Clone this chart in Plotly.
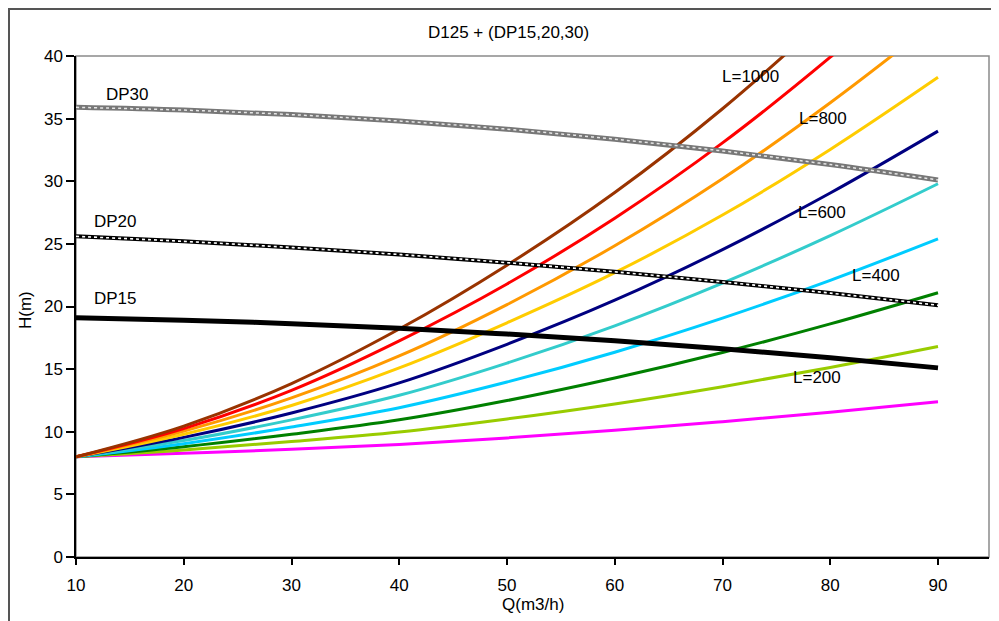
import plotly.graph_objects as go

# ---- data ----
Q = [10, 20, 30, 40, 50, 60, 70, 80, 90]

L100 = [8, 8.28, 8.60, 8.99, 9.51, 10.11, 10.80, 11.56, 12.4]
L200 = [8, 8.55, 9.22, 9.98, 11.02, 12.22, 13.60, 15.13, 16.8]
L300 = [8, 8.80, 9.80, 10.95, 12.49, 14.29, 16.33, 18.61, 21.1]
L400 = [8, 9.05, 10.38, 11.92, 13.97, 16.35, 19.07, 22.09, 25.4]
L500 = [8, 9.30, 10.95, 12.91, 15.48, 18.46, 21.87, 25.66, 29.8]
L600 = [8, 9.55, 11.50, 13.90, 16.98, 20.50, 24.54, 29.06, 34.0]
L700 = [8, 9.80, 12.10, 15.10, 18.70, 22.70, 27.30, 32.54, 38.3]
L800 = [8, 10.05, 12.70, 16.05, 20.15, 24.85, 30.20, 36.27, 42.9]
L900 = [8, 10.25, 13.30, 17.25, 21.80, 27.05, 33.06, 39.91, 47.4]
L1000 = [8, 10.45, 13.85, 18.20, 23.30, 29.10, 35.79, 43.40, 51.7]

DP15 = [19.1, 18.91, 18.63, 18.26, 17.80, 17.26, 16.63, 15.91, 15.1]
DP20 = [25.6, 25.20, 24.71, 24.15, 23.50, 22.77, 21.96, 21.07, 20.1]
DP30 = [35.9, 35.68, 35.32, 34.81, 34.16, 33.36, 32.42, 31.33, 30.1]

system_series = [L100, L200, L300, L400, L500, L600, L700, L800, L900, L1000]
system_colors = ["#FF00FF", "#99CC00", "#008000", "#00CCFF", "#33CCCC",
                 "#000080", "#FFCC00", "#FF9900", "#FF0000", "#993300"]
system_names = ["L=100", "L=200", "L=300", "L=400", "L=500",
                "L=600", "L=700", "L=800", "L=900", "L=1000"]

line_labels = ["L=1000", "L=800", "L=600", "L=400", "L=200"]
line_label_q = [72.6, 79.3, 79.2, 84.2, 78.8]
line_label_h = [38.4, 35.0, 27.5, 22.5, 14.3]

pump_labels = ["DP30", "DP20", "DP15"]
pump_label_q = [14.8, 13.7, 13.7]
pump_label_h = [36.9, 26.8, 20.6]

title_text = "D125 + (DP15,20,30)"
x_title = "Q(m3/h)"
y_title = "H(m)"

FONT = "Liberation Sans, Arial, sans-serif"
FS = 17

fig = go.Figure()

for ys, c, n in zip(system_series, system_colors, system_names):
    fig.add_trace(go.Scatter(x=Q, y=ys, mode="lines", name=n,
                             line=dict(color=c, width=3, shape="spline")))

# pump curves
fig.add_trace(go.Scatter(x=Q, y=DP30, mode="lines", name="DP30",
                         line=dict(color="#777777", width=5, shape="spline")))
fig.add_trace(go.Scatter(x=Q, y=DP30, mode="lines", name="DP30b", showlegend=False,
                         line=dict(color="#e6e6e6", width=1.5, dash="dot", shape="spline")))
fig.add_trace(go.Scatter(x=Q, y=DP20, mode="lines", name="DP20",
                         line=dict(color="#000000", width=4, shape="spline")))
fig.add_trace(go.Scatter(x=Q, y=DP20, mode="lines", name="DP20b", showlegend=False,
                         line=dict(color="#ffffff", width=1.6, dash="dot", shape="spline")))
fig.add_trace(go.Scatter(x=Q, y=DP15, mode="lines", name="DP15",
                         line=dict(color="#000000", width=5, shape="spline")))

# page body has an 8px margin: work in screen pixels, convert to figure
OFF = 8
W, H = 991, 613
ml, mr, mt, mb = 68, 10, 48, 64
pw = W - ml - mr
ph = H - mt - mb


def px(sx):
    return (sx - OFF - ml) / pw


def py(sy):
    return (H - mb - (sy - OFF)) / ph


annotations = []
for t, q, h in zip(line_labels, line_label_q, line_label_h):
    annotations.append(dict(x=q, y=h, xref="x", yref="y", text=t, showarrow=False,
                            font=dict(family=FONT, size=FS, color="#000")))
for t, q, h in zip(pump_labels, pump_label_q, pump_label_h):
    annotations.append(dict(x=q, y=h, xref="x", yref="y", text=t, showarrow=False,
                            font=dict(family=FONT, size=FS, color="#000")))
annotations.append(dict(x=px(508), y=py(32), xref="paper", yref="paper", text=title_text,
                        xanchor="center", yanchor="middle",
                        showarrow=False, font=dict(family=FONT, size=FS, color="#000")))
annotations.append(dict(x=px(533), y=py(604), xref="paper", yref="paper", text=x_title,
                        xanchor="center", yanchor="middle",
                        showarrow=False, font=dict(family=FONT, size=FS, color="#000")))
annotations.append(dict(x=px(25), y=py(310), xref="paper", yref="paper", text=y_title,
                        xanchor="center", yanchor="middle",
                        textangle=-90, showarrow=False,
                        font=dict(family=FONT, size=FS, color="#000")))

shapes = [
    dict(type="rect", xref="paper", yref="paper", x0=0, x1=1, y0=0, y1=1,
         line=dict(color="#8a8a8a", width=1.5), layer="below"),
    dict(type="rect", xref="paper", yref="paper", x0=px(OFF + 1), x1=px(1040),
         y0=py(680), y1=py(OFF + 1), line=dict(color="#555555", width=2), layer="below"),
]

fig.update_layout(
    width=W, height=H,
    margin=dict(l=ml, r=mr, t=mt, b=mb),
    paper_bgcolor="white", plot_bgcolor="white",
    showlegend=False,
    font=dict(family=FONT, size=FS, color="#000"),
    annotations=annotations,
    shapes=shapes,
    xaxis=dict(range=[10, 10 + pw / 10.775], tickvals=[10, 20, 30, 40, 50, 60, 70, 80, 90],
               showgrid=False, zeroline=False, showline=True, linecolor="#000", linewidth=1.5,
               ticks="outside", ticklen=6, tickcolor="#000", tickwidth=1.5,
               ticklabelstandoff=6, tickfont=dict(family=FONT, size=FS, color="#000")),
    yaxis=dict(range=[0, 40], tickvals=[0, 5, 10, 15, 20, 25, 30, 35, 40],
               showgrid=False, zeroline=False, showline=True, linecolor="#000", linewidth=1.5,
               ticks="outside", ticklen=8, tickcolor="#000", tickwidth=1.5,
               tickfont=dict(family=FONT, size=FS, color="#000")),
)

fig.write_html("out.html")
